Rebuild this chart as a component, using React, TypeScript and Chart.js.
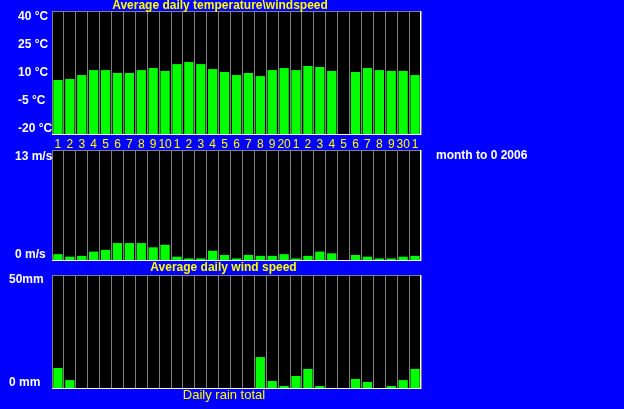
import React, { useEffect, useRef } from 'react';
import { Chart, registerables } from 'chart.js';

Chart.register(...registerables);

// ---------- data ----------
const dayLabels = ['1','2','3','4','5','6','7','8','9','10','1','2','3','4','5','6','7','8','9','20','1','2','3','4','5','6','7','8','9','30','1'];

const temperature = [6.6, 7.1, 9.0, 11.4, 11.4, 10.0, 10.0, 11.4, 12.4, 11.0, 14.3, 15.3, 14.3, 11.9, 10.5, 9.0, 10.0, 8.5, 11.4, 12.4, 11.4, 13.4, 12.9, 11.0, null, 10.5, 12.4, 11.4, 11.0, 11.0, 9.0];
const windSpeed = [0.8, 0.5, 0.6, 1.1, 1.3, 2.1, 2.1, 2.1, 1.6, 1.9, 0.5, 0.3, 0.3, 1.2, 0.7, 0.3, 0.7, 0.6, 0.6, 0.8, 0.3, 0.6, 1.1, 0.9, null, 0.7, 0.5, 0.3, 0.3, 0.5, 0.6];
const rainfall = [9.2, 3.9, 0, 0, 0, 0, 0, 0, 0, 0, 0, 0, 0, 0, 0, 0, 0, 14.0, 3.5, 1.3, 5.7, 8.8, 1.3, 0, 0, 4.4, 3.1, 0, 1.3, 3.9, 8.8];

const tempTickValues = [-20, -5, 10, 25, 40];
const tempTickLabels = ['-20 °C', '-5 °C', '10 °C', '25 °C', '40 °C'];
const windTickValues = [0, 13];
const windTickLabels = ['0 m/s', '13 m/s'];
const rainTickValues = [0, 50];
const rainTickLabels = ['0 mm', '50mm'];

const tempTitle = 'Average daily temperature\\windspeed';
const windTitle = 'Average daily wind speed';
const rainTitle = 'Daily rain total';
const periodText = 'month to 0 2006';

// ---------- style ----------
const FONT = '"Liberation Sans", Arial, sans-serif';
const BLUE = '#0000ff';
const GREEN = '#00ff00';
const YELLOW = '#ffff00';
const WHITE = '#ffffff';
const GRAY = '#808080';

const bgPlugin = {
  id: 'plotBg',
  beforeDraw(chart: any) {
    const { ctx, chartArea: a } = chart;
    ctx.save();
    ctx.fillStyle = '#000000';
    ctx.fillRect(a.left, a.top, a.right - a.left, a.bottom - a.top);
    ctx.restore();
  },
};

const borderPlugin = {
  id: 'plotBorder',
  afterDraw(chart: any) {
    const { ctx, chartArea: a } = chart;
    ctx.save();
    ctx.lineWidth = 1;
    ctx.strokeStyle = GRAY;
    ctx.beginPath();
    ctx.moveTo(a.left, a.top + 0.5);
    ctx.lineTo(a.right, a.top + 0.5);
    ctx.moveTo(a.left + 0.5, a.top);
    ctx.lineTo(a.left + 0.5, a.bottom);
    ctx.stroke();
    ctx.strokeStyle = WHITE;
    ctx.beginPath();
    ctx.moveTo(a.left, a.bottom - 0.5);
    ctx.lineTo(a.right, a.bottom - 0.5);
    ctx.moveTo(a.right - 0.5, a.top);
    ctx.lineTo(a.right - 0.5, a.bottom);
    ctx.stroke();
    ctx.restore();
  },
};

const textPlugin = {
  id: 'texts',
  afterDraw(chart: any) {
    const ctx = chart.ctx;
    ctx.save();
    ctx.textBaseline = 'alphabetic';
    ctx.fillStyle = YELLOW;
    ctx.font = `bold 12px ${FONT}`;
    ctx.textAlign = 'center';
    ctx.fillText(tempTitle, 220, 9);
    ctx.fillText(windTitle, 223.5, 271);
    ctx.font = `13px ${FONT}`;
    ctx.fillText(rainTitle, 224, 399);
    ctx.fillStyle = WHITE;
    ctx.font = `bold 12px ${FONT}`;
    ctx.textAlign = 'left';
    ctx.fillText(periodText, 436, 159);
    ctx.restore();
  },
};

function buildConfig(p: any): any {
  return {
    type: 'bar',
    data: {
      labels: dayLabels,
      datasets: [
        {
          data: p.values,
          base: p.min,
          backgroundColor: GREEN,
          borderWidth: 0,
          barPercentage: 0.78,
          categoryPercentage: 1,
          xAxisID: 'x',
          yAxisID: 'y',
        },
      ],
    },
    options: {
      responsive: false,
      maintainAspectRatio: false,
      animation: false,
      devicePixelRatio: 1,
      events: [],
      layout: { padding: p.padding },
      plugins: {
        legend: { display: false },
        tooltip: { enabled: false },
        title: { display: false },
      },
      scales: {
        x: {
          type: 'category',
          offset: true,
          display: true,
          grid: { display: true, color: GRAY, lineWidth: 1, drawTicks: false, offset: true },
          border: { display: false },
          ticks: {
            display: p.showX,
            color: YELLOW,
            font: { family: FONT, size: 12 },
            padding: 2,
            maxRotation: 0,
            minRotation: 0,
            autoSkip: false,
          },
          afterFit: (s: any) => {
            s.height = p.xHeight;
          },
        },
        y: { type: 'linear', display: false, min: p.min, max: p.max },
        yl: {
          type: 'linear',
          position: 'left',
          min: p.labelMin,
          max: p.labelMax,
          grid: { display: false },
          border: { display: false },
          afterBuildTicks: (s: any) => {
            s.ticks = p.tickValues.map((v: number) => ({ value: v }));
          },
          ticks: {
            color: WHITE,
            font: { family: FONT, size: 12, weight: 'bold' },
            crossAlign: 'far',
            padding: 0,
            callback: (_v: any, i: number) => p.tickLabels[i],
          },
          afterFit: (s: any) => {
            s.width = p.yWidth;
          },
        },
      },
    },
    plugins: [bgPlugin, borderPlugin, ...(p.extra || [])],
  };
}

export default function App() {
  const r1 = useRef<HTMLCanvasElement>(null);
  const r2 = useRef<HTMLCanvasElement>(null);
  const r3 = useRef<HTMLCanvasElement>(null);

  useEffect(() => {
    const charts: Chart[] = [];
    charts.push(
      new Chart(
        r1.current as HTMLCanvasElement,
        buildConfig({
          values: temperature,
          min: -20,
          max: 40,
          labelMin: -23.2,
          labelMax: 43.04,
          tickValues: tempTickValues,
          tickLabels: tempTickLabels,
          padding: { left: 18, right: 203, top: 11, bottom: 257 },
          yWidth: 34,
          showX: true,
          xHeight: 17,
        })
      )
    );
    charts.push(
      new Chart(
        r2.current as HTMLCanvasElement,
        buildConfig({
          values: windSpeed,
          min: 0,
          max: 13,
          labelMin: -0.79,
          labelMax: 13.89,
          tickValues: windTickValues,
          tickLabels: windTickLabels,
          padding: { left: 15, right: 203, top: 150, bottom: 148 },
          yWidth: 37,
          showX: false,
          xHeight: 0,
        })
      )
    );
    charts.push(
      new Chart(
        r3.current as HTMLCanvasElement,
        buildConfig({
          values: rainfall,
          min: 0,
          max: 50,
          labelMin: -3.27,
          labelMax: 52.44,
          tickValues: rainTickValues,
          tickLabels: rainTickLabels,
          padding: { left: 9, right: 203, top: 275, bottom: 20 },
          yWidth: 43,
          showX: false,
          xHeight: 0,
          extra: [textPlugin],
        })
      )
    );
    return () => charts.forEach((c) => c.destroy());
  }, []);

  const canvasStyle: React.CSSProperties = {
    position: 'absolute',
    left: 0,
    top: 0,
    width: 624,
    height: 409,
    pointerEvents: 'none',
  };

  return (
    <div
      style={{
        position: 'fixed',
        left: 0,
        top: 0,
        width: 624,
        height: 409,
        background: BLUE,
        overflow: 'hidden',
      }}
    >
      <canvas ref={r1} width={624} height={409} style={canvasStyle} />
      <canvas ref={r2} width={624} height={409} style={canvasStyle} />
      <canvas ref={r3} width={624} height={409} style={canvasStyle} />
    </div>
  );
}
